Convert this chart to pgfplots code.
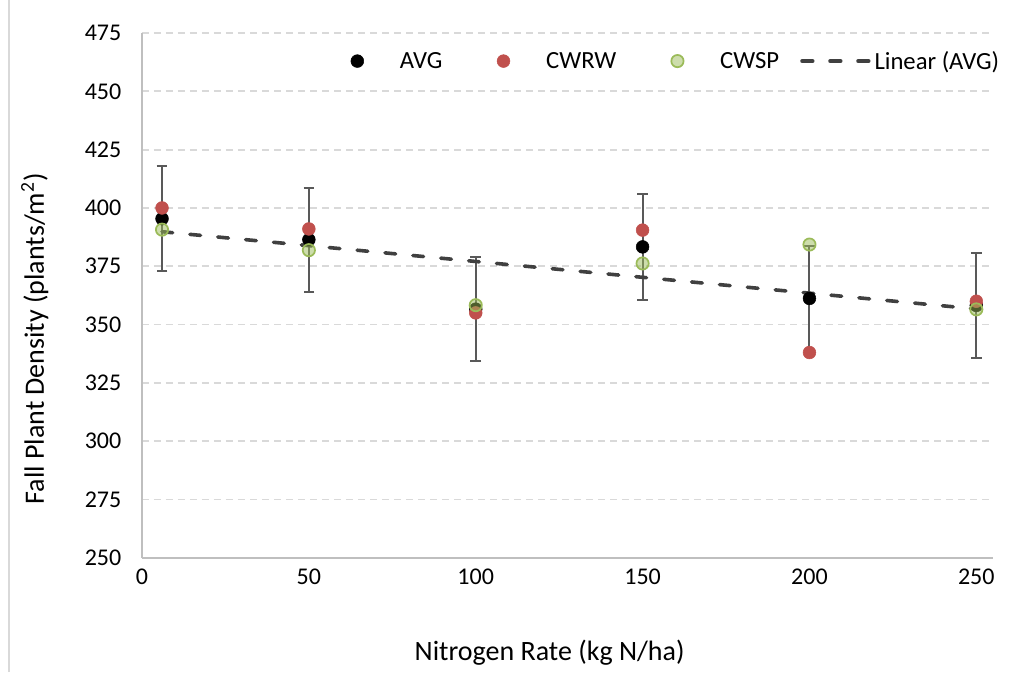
\documentclass[border=0pt]{standalone}
\usepackage{pgfplots}
\usepackage{pgfplotstable}
\pgfplotsset{compat=1.18}
\usepackage{fontspec}
\setmainfont{Carlito}

\definecolor{avgblack}{HTML}{000000}
\definecolor{cwrwred}{HTML}{C0504D}
\definecolor{cwspgreen}{HTML}{9BBB59}
\definecolor{errgray}{HTML}{595959}
\definecolor{trendgray}{HTML}{404040}
\definecolor{gridgray}{HTML}{D9D9D9}
\definecolor{axisgray}{HTML}{BFBFBF}

% Fall plant density by nitrogen rate
\pgfplotstableread{
x    avg    err   cwrw   cwsp
6    395.4  22.5  400.0  390.7
50   386.4  22.3  391.0  381.9
100  356.6  22.3  355.0  358.3
150  383.3  22.6  390.5  376.2
200  361.2  22.5  338.0  384.3
250  358.2  22.4  360.0  356.5
}\density

\pgfplotsset{
  mark legend image/.style={
    legend image code/.code={%
      \path[draw=none, fill=none] (0pt,0pt) -- (60pt,0pt);
      \draw[mark repeat=2,mark phase=2,##1] plot coordinates {(0pt,0pt) (30pt,0pt) (60pt,0pt)};}},
  line legend image/.style={
    legend image code/.code={%
      \draw[##1] (0pt,0pt) -- (51pt,0pt);}},
}

\begin{document}
\begin{tikzpicture}
\begin{axis}[
  at={(0,0)}, anchor=south west,
  scale only axis,
  width=638.25pt, height=393.5pt,
  xmin=0, xmax=255, ymin=250, ymax=475,
  xtick={0,50,...,250},
  ytick={250,275,...,475},
  axis lines=left,
  axis line style={-, draw=axisgray, line width=1.4pt},
  major tick length=0pt,
  ymajorgrids,
  grid style={draw=gridgray, line width=1.3pt, dash pattern=on 5pt off 4pt},
  tick label style={font=\fontsize{18}{21}\selectfont, text=black},
  /pgf/number format/assume math mode=true,
  yticklabel style={xshift=-12pt},
  xticklabel style={yshift=-4.5pt},
  every axis x label/.style={at={(axis description cs:0.479,-0.18)}, anchor=center},
  every axis y label/.style={at={(axis description cs:-0.126,0.417)}, rotate=90, anchor=center},
  label style={font=\fontsize{21}{25}\selectfont},
  xlabel={Nitrogen Rate (kg N/ha)},
  ylabel={Fall Plant Density (plants/m\textsuperscript{2})},
  legend columns=4,
  legend cell align=left,
  legend style={at={(axis description cs:0.2057,0.9466)}, anchor=west,
    draw=none, fill=none, inner sep=0pt,
    font=\fontsize{18.5}{22}\selectfont,
    /tikz/every even column/.append style={column sep=13.8pt}},
]
% average with error bars
\addplot[only marks, mark legend image, mark=*, mark size=4.8pt,
  mark options={fill=avgblack, draw=avgblack},
  error bars/.cd, y dir=both, y explicit,
  error bar style={draw=errgray, line width=1.5pt},
  error mark options={rotate=90, mark size=4pt, draw=errgray, line width=1.5pt}]
  table[x=x, y=avg, y error=err] {\density};
\addlegendentry{AVG}
% CWRW
\addplot[only marks, mark legend image, mark=*, mark size=4.8pt,
  mark options={fill=cwrwred, draw=cwrwred}]
  table[x=x, y=cwrw] {\density};
\addlegendentry{CWRW}
% CWSP
\addplot[only marks, mark legend image, mark=*, mark size=4.6pt,
  mark options={fill=cwspgreen, fill opacity=0.5, draw=cwspgreen, line width=1.3pt}]
  table[x=x, y=cwsp] {\density};
\addlegendentry{CWSP}
% linear trend of the average
\addplot[line legend image, draw=trendgray, line width=2.7pt, line cap=round, dash pattern=on 8pt off 13pt]
  table[x=x, y={create col/linear regression={y=avg}}] {\density};
\addlegendentry{Linear (AVG)}
\end{axis}
\draw[draw=gridgray, line width=1pt] (-99.75pt,-85.7pt) -- (-99.75pt,418.3pt);
\pgfresetboundingbox
\path (-106.5pt,-85.7pt) rectangle (661.5pt,418.3pt);
\end{tikzpicture}
\end{document}
